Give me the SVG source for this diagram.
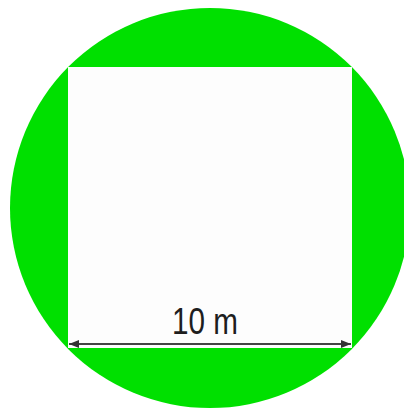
<svg xmlns="http://www.w3.org/2000/svg" width="404" height="410" viewBox="0 0 404 410">
<style>
.bg{fill:#ffffff}
.circle{fill:#00e000}
.square{fill:#fdfdfd}
.dim{stroke:#444444;stroke-width:2;fill:none}
.label{font-family:"Liberation Sans",Arial,sans-serif;font-size:36px;fill:#1e1e1e}
</style>
<defs>
<marker id="ah" viewBox="0 0 10 8" refX="10" refY="4" markerWidth="10" markerHeight="8" markerUnits="userSpaceOnUse" orient="auto-start-reverse">
<path d="M0,0 L10,4 L0,8 Z" fill="#333333"/>
</marker>
</defs>
<rect class="bg" x="0" y="0" width="404" height="410"/>
<g id="circle"><circle class="circle" cx="210" cy="208" r="200"/></g>
<g id="square"><rect class="square" x="68" y="67" width="284" height="281"/></g>
<g id="connectors">
<line class="dim" x1="69" y1="344" x2="351" y2="344" marker-start="url(#ah)" marker-end="url(#ah)"/>
</g>
<g id="label"><text class="label" x="205" y="334" text-anchor="middle" textLength="66" lengthAdjust="spacingAndGlyphs">10 m</text></g>
</svg>
